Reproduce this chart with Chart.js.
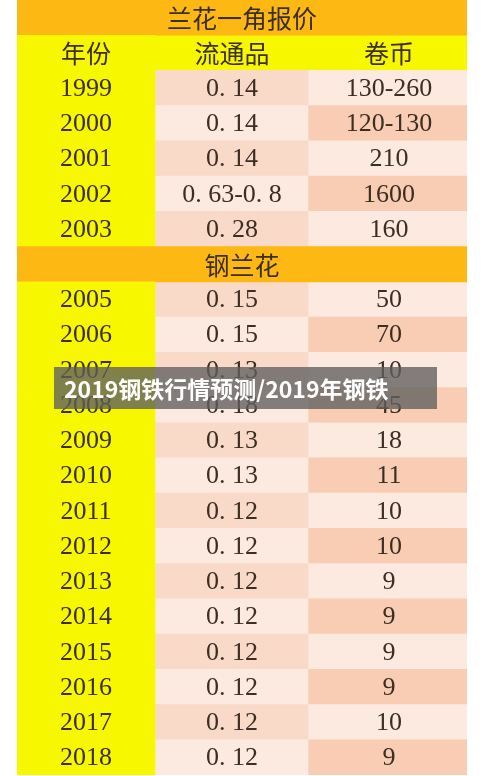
<!DOCTYPE html>
<html><head><meta charset="utf-8">
<script src="https://cdn.jsdelivr.net/npm/chart.js@4"></script>
<style>html,body{margin:0;padding:0;background:#fff;}canvas{display:block}</style>
</head><body>
<canvas id="c" width="492" height="776"></canvas>
<script>
// Table content
const rowKinds = ['title','head','d','d','d','d','d','title','d','d','d','d','d','d','d','d','d','d','d','d','d','d'];
const col1 = ['兰花一角报价','年份','1999','2000','2001','2002','2003','钢兰花','2005','2006','2007','2008','2009','2010','2011','2012','2013','2014','2015','2016','2017','2018'];
const col2 = ['','流通品','0. 14','0. 14','0. 14','0. 63-0. 8','0. 28','','0. 15','0. 15','0. 13','0. 18','0. 13','0. 13','0. 12','0. 12','0. 12','0. 12','0. 12','0. 12','0. 12','0. 12'];
const col3 = ['','卷币','130-260','120-130','210','1600','160','','50','70','10','45','18','11','10','10','9','9','9','9','10','9'];
const bannerText = '2019钢铁行情预测/2019年钢铁';

const edges = [0, 138, 291, 450];
const rowIdx = rowKinds.map((_, i) => String(i));
const ORANGE = '#fdb813', YELLOW = '#f7f700';
const P1 = '#f9dac8', P2 = '#fce9df', P3 = '#f8cdb3';
function c2(i, k){ return k==='title'?ORANGE:k==='head'?YELLOW:(i%2===0?P1:P2); }
function c3(i, k){ return k==='title'?ORANGE:k==='head'?YELLOW:(i%2===0?P2:P3); }

const ds = [
  {data: rowKinds.map(k => k==='title'?[edges[0],edges[3]]:[edges[0],edges[1]]), backgroundColor: rowKinds.map(k=>k==='title'?ORANGE:YELLOW)},
  {data: rowKinds.map(k => k==='title'?null:[edges[1],edges[2]]), backgroundColor: rowKinds.map((k,i)=>c2(i,k))},
  {data: rowKinds.map(k => k==='title'?null:[edges[2],edges[3]]), backgroundColor: rowKinds.map((k,i)=>c3(i,k))}
].map(d => Object.assign(d, {barPercentage:1, categoryPercentage:1, borderWidth:0, grouped:false}));

const textPlugin = {
  id:'txt',
  afterDatasetsDraw(chart){
    const ctx = chart.ctx, x = chart.scales.x, y = chart.scales.y;
    ctx.save();
    ctx.textBaseline = 'middle'; ctx.textAlign = 'center';
    rowKinds.forEach((k, i) => {
      const py = y.getPixelForValue(i) + 1;
      ctx.fillStyle = '#3b2e22';
      if (k==='title'){
        ctx.font = "25px 'Noto Sans CJK SC'";
        ctx.fillText(col1[i], x.getPixelForValue(225), py);
        return;
      }
      const f = k==='head' ? "25px 'Noto Sans CJK SC'" : "26px 'Liberation Serif', 'DejaVu Serif'";
      ctx.font = f;
      ctx.fillText(col1[i], x.getPixelForValue(69), py);
      ctx.fillText(col2[i], x.getPixelForValue(215), py);
      ctx.fillText(col3[i], x.getPixelForValue(372), py);
    });
    // banner overlay
    ctx.fillStyle = 'rgba(95,95,95,0.78)';
    ctx.fillRect(54, 367, 383, 42);
    ctx.fillStyle = '#ffffff';
    ctx.font = "bold 23px 'Noto Sans CJK SC'";
    ctx.textAlign = 'left';
    ctx.fillText(bannerText, 64, 389);
    ctx.restore();
  }
};

new Chart(document.getElementById('c'), {
  type:'bar',
  data:{labels: rowIdx, datasets: ds},
  options:{
    indexAxis:'y', responsive:false, animation:false, devicePixelRatio:1,
    layout:{padding:{left:17, right:25, top:0, bottom:1}},
    plugins:{legend:{display:false}, tooltip:{enabled:false}},
    scales:{
      x:{type:'linear', min:0, max:450, display:false},
      y:{type:'category', display:false, offset:true}
    }
  },
  plugins:[textPlugin]
});
</script>
</body></html>
